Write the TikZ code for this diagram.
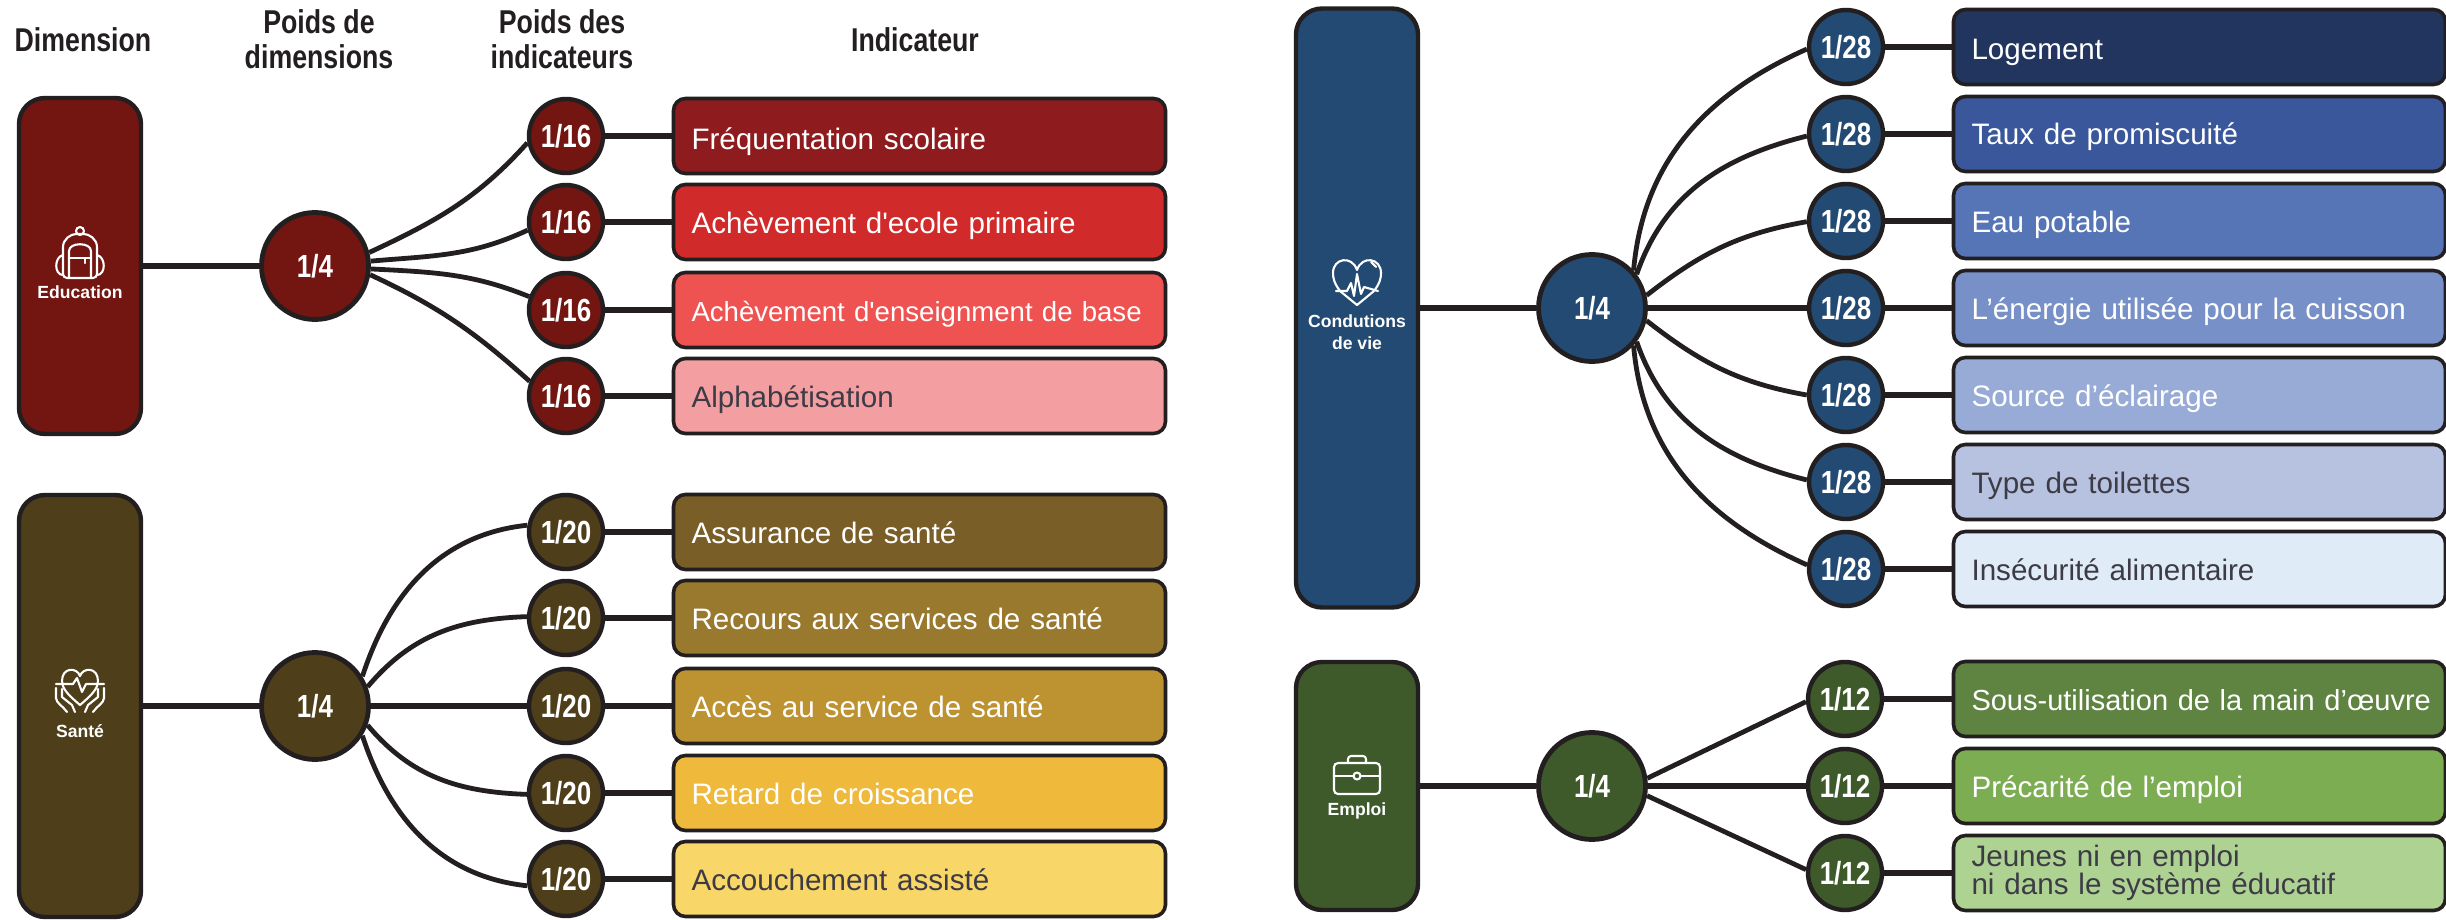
\documentclass[tikz,border=0pt]{standalone}
\usepackage{xcolor}
\usepackage{fontspec}
\setmainfont[Ligatures=TeXOff]{Liberation Sans}
\newfontfamily\headfont[FakeStretch=0.81]{Liberation Sans}
\usepackage{tikz}
\definecolor{ink}{HTML}{231F20}
\definecolor{dark}{HTML}{3D3B45}
\definecolor{eduD}{HTML}{731510}
\definecolor{eduA}{HTML}{8E1C1E}
\definecolor{eduB}{HTML}{D12A2B}
\definecolor{eduC}{HTML}{EE5351}
\definecolor{eduE}{HTML}{F39FA2}
\definecolor{santeD}{HTML}{4E3E19}
\definecolor{santeA}{HTML}{7A5E27}
\definecolor{santeB}{HTML}{98792E}
\definecolor{santeC}{HTML}{BD9331}
\definecolor{santeE}{HTML}{EFB93C}
\definecolor{santeF}{HTML}{F8D667}
\definecolor{vieD}{HTML}{224A72}
\definecolor{vieA}{HTML}{21355F}
\definecolor{vieB}{HTML}{39579A}
\definecolor{vieC}{HTML}{5575B6}
\definecolor{vieE}{HTML}{7791C8}
\definecolor{vieF}{HTML}{98ABD6}
\definecolor{vieG}{HTML}{B6C2E0}
\definecolor{vieH}{HTML}{DFECF8}
\definecolor{jobD}{HTML}{3E5A2B}
\definecolor{jobA}{HTML}{5F8341}
\definecolor{jobB}{HTML}{7DAD52}
\definecolor{jobC}{HTML}{ADD292}
\tikzset{
  dimbox/.style={draw=ink, fill=#1, line width=2.2pt, rounded corners=13pt, minimum width=61pt},
  bigw/.style={circle, draw=ink, fill=#1, line width=2.4pt, minimum size=53.5pt, inner sep=0pt, text=white, font=\headfont\bfseries\fontsize{16}{16}\selectfont},
  smallw/.style={circle, draw=ink, fill=#1, line width=2.2pt, minimum size=37pt, inner sep=0pt, text=white, font=\headfont\bfseries\fontsize{16}{16}\selectfont},
  ind/.style={draw=ink, fill=#1, line width=1.8pt, rounded corners=6pt, minimum height=37.5pt, text width=228pt, inner xsep=9pt, inner ysep=0pt, align=left, text height=12.5pt, text depth=1.5pt, text=white, font=\fontsize{14.8}{14}\selectfont},
  head/.style={text=ink, align=center, font=\headfont\bfseries\fontsize{16.5}{17.5}\selectfont},
  dimlab/.style={text=white, align=center, font=\bfseries\fontsize{8.8}{11}\selectfont},
  link/.style={draw=ink, line width=2.9pt},
  spline/.style={draw=ink, line width=2.4pt},
  icon/.style={draw=white, line width=1.05pt, line cap=round, line join=round},
  backpack/.pic={
    \draw[icon] (0,-22) circle[radius=4];
    \draw[icon, rounded corners=2pt] (-17,25) -- (-17,-2) .. controls (-17,-14) and (-9,-19) .. (0,-19) .. controls (9,-19) and (17,-14) .. (17,-2) -- (17,25) -- cycle;
    \draw[icon] (-11,25) -- (-11,-2) .. controls (-11,-11) and (11,-11) .. (11,-2) -- (11,25);
    \draw[icon] (-11,5) -- (11,5) (5,5) -- (5,10);
    \draw[icon] (-17,2) .. controls (-26,4) and (-26,22) .. (-17,22);
    \draw[icon] (17,2) .. controls (26,4) and (26,22) .. (17,22);
  },
  carehands/.pic={
    \draw[icon] (0,14) .. controls (-13,3) and (-18,-3) .. (-18,-10) .. controls (-18,-24) and (-3,-24) .. (0,-15) .. controls (3,-24) and (18,-24) .. (18,-10) .. controls (18,-3) and (13,3) .. (0,14);
    \draw[icon] (-24,-7) -- (-7,-7) -- (-3,-13) -- (2,1) -- (6,-7) -- (24,-7);
    \draw[icon] (-24,-3) -- (-24,7) .. controls (-24,12) and (-17,15) .. (-13,21);
    \draw[icon] (24,-3) -- (24,7) .. controls (24,12) and (17,15) .. (13,21);
    \draw[icon] (-18,-2) -- (-18,6) -- (-8,14) -- (-5,21);
    \draw[icon] (18,-2) -- (18,6) -- (8,14) -- (5,21);
  },
  pulseheart/.pic={
    \draw[icon] (-17,9) .. controls (-23,1) and (-24,-4) .. (-24,-9) .. controls (-24,-24) and (-5,-27) .. (0,-12) .. controls (5,-27) and (24,-24) .. (24,-9) .. controls (24,-4) and (23,1) .. (17,9) -- (0,23) -- cycle;
    \draw[icon] (-21,9) -- (-10,9) -- (-6,1) -- (-3,14) -- (0,-8) -- (4,12) -- (7,5) -- (21,9);
    \draw[icon] (14,-20) -- (19,-15);
  },
  briefcase/.pic={
    \draw[icon, rounded corners=2pt] (-23,-12) rectangle (23,19);
    \draw[icon, rounded corners=1.5pt] (-9,-12) -- (-9,-19) -- (9,-19) -- (9,-12);
    \draw[icon] (-23,1) -- (-4,1) (4,1) -- (23,1);
    \draw[icon] (0,1) circle[radius=3.5];
  },
}

\begin{document}
\begin{tikzpicture}[x=0.5pt, y=-0.5pt]
  \useasboundingbox (0,0) rectangle (2446,920);

  \node[head] (hDim) at (83,40) {Dimension};
  \node[head] (hPoidsDim) at (319,39) {Poids de\\dimensions};
  \node[head] (hPoidsInd) at (562,39) {Poids des\\indicateurs};
  \node[head] (hInd) at (915,40) {Indicateur};

  % education
  \node[dimbox=eduD, minimum height=168pt] (eduBox) at (80,266) {};
  \node[bigw=eduD] (eduW) at (315,266) {1/4};
  \node[smallw=eduD] (eduP1) at (566,136) {1/16};
  \node[smallw=eduD] (eduP2) at (566,222) {1/16};
  \node[smallw=eduD] (eduP3) at (566,310) {1/16};
  \node[smallw=eduD] (eduP4) at (566,396) {1/16};
  \node[ind=eduA, text height=15pt] (eduI1) at (919.5,136) {Fréquentation scolaire};
  \node[ind=eduB] (eduI2) at (919.5,222) {Achèvement d'ecole primaire};
  \node[ind=eduC, font=\fontsize{13.8}{14}\selectfont] (eduI3) at (919.5,310) {\mbox{Achèvement d'enseignment de base}};
  \node[ind=eduE, text=dark] (eduI4) at (919.5,396) {Alphabétisation};
  \pic at (80,253) {backpack};
  \node[dimlab] (eduLab) at (80,292) {Education};

  \draw[link] (eduBox) -- (eduW);
  \draw[spline] (eduW.14) to[out=25,in=228] (eduP1.190);
  \draw[spline] (eduW.5) to[out=5,in=205] (eduP2.192);
  \draw[spline] (eduW.-3) to[out=-3,in=158] (eduP3.160);
  \draw[spline] (eduW.-9) to[out=-25,in=138] (eduP4.158);
  \draw[link] (eduP1) -- (eduI1);
  \draw[link] (eduP2) -- (eduI2);
  \draw[link] (eduP3) -- (eduI3);
  \draw[link] (eduP4) -- (eduI4);

  % sante
  \node[dimbox=santeD, minimum height=211pt] (santeBox) at (80,706) {};
  \node[bigw=santeD] (santeW) at (315,706) {1/4};
  \node[smallw=santeD] (santeP1) at (566,532) {1/20};
  \node[smallw=santeD] (santeP2) at (566,618) {1/20};
  \node[smallw=santeD] (santeP3) at (566,706) {1/20};
  \node[smallw=santeD] (santeP4) at (566,793) {1/20};
  \node[smallw=santeD] (santeP5) at (566,879) {1/20};
  \node[ind=santeA] (santeI1) at (919.5,532) {Assurance de santé};
  \node[ind=santeB] (santeI2) at (919.5,618) {Recours aux services de santé};
  \node[ind=santeC] (santeI3) at (919.5,706) {Accès au service de santé};
  \node[ind=santeE] (santeI4) at (919.5,793) {Retard de croissance};
  \node[ind=santeF, text=dark] (santeI5) at (919.5,879) {Accouchement assisté};
  \pic at (80,691) {carehands};
  \node[dimlab] (santeLab) at (80,731) {Santé};

  \draw[link] (santeBox) -- (santeW);
  \draw[spline] (santeW.32) to[out=72,in=186] (santeP1.170);
  \draw[spline] (santeW.20) to[out=50,in=182] (santeP2.178);
  \draw[link] (santeW) -- (santeP3);
  \draw[spline] (santeW.-20) to[out=-50,in=178] (santeP4.182);
  \draw[spline] (santeW.-32) to[out=-72,in=174] (santeP5.190);
  \draw[link] (santeP1) -- (santeI1);
  \draw[link] (santeP2) -- (santeI2);
  \draw[link] (santeP3) -- (santeI3);
  \draw[link] (santeP4) -- (santeI4);
  \draw[link] (santeP5) -- (santeI5);

  % conditions de vie
  \node[dimbox=vieD, minimum height=299.5pt] (vieBox) at (1357,308) {};
  \node[bigw=vieD] (vieW) at (1592,308) {1/4};
  \node[smallw=vieD] (vieP1) at (1846,47) {1/28};
  \node[smallw=vieD] (vieP2) at (1846,134) {1/28};
  \node[smallw=vieD] (vieP3) at (1846,221) {1/28};
  \node[smallw=vieD] (vieP4) at (1846,308) {1/28};
  \node[smallw=vieD] (vieP5) at (1846,395) {1/28};
  \node[smallw=vieD] (vieP6) at (1846,482) {1/28};
  \node[smallw=vieD] (vieP7) at (1846,569) {1/28};
  \node[ind=vieA, text height=14.5pt] (vieI1) at (2199.5,47) {Logement};
  \node[ind=vieB] (vieI2) at (2199.5,134) {Taux de promiscuité};
  \node[ind=vieC] (vieI3) at (2199.5,221) {Eau potable};
  \node[ind=vieE] (vieI4) at (2199.5,308) {L’énergie utilisée pour la cuisson};
  \node[ind=vieF] (vieI5) at (2199.5,395) {Source d’éclairage};
  \node[ind=vieG, text=dark] (vieI6) at (2199.5,482) {Type de toilettes};
  \node[ind=vieH, text=dark] (vieI7) at (2199.5,569) {Insécurité alimentaire};
  \pic at (1357,282) {pulseheart};
  \node[dimlab] (vieLab) at (1357,332) {Condutions\\de vie};

  \draw[link] (vieBox) -- (vieW);
  \draw[spline] (vieW.42) to[out=85,in=204] (vieP1.183);
  \draw[spline] (vieW.37) to[out=71,in=194] (vieP2.183);
  \draw[spline] (vieW.13) to[out=38,in=190] (vieP3.181);
  \draw[link] (vieW) -- (vieP4);
  \draw[spline] (vieW.-13) to[out=-38,in=170] (vieP5.180);
  \draw[spline] (vieW.-37) to[out=-71,in=166] (vieP6.177);
  \draw[spline] (vieW.-42) to[out=-85,in=156] (vieP7.174);
  \draw[link] (vieP1) -- (vieI1);
  \draw[link] (vieP2) -- (vieI2);
  \draw[link] (vieP3) -- (vieI3);
  \draw[link] (vieP4) -- (vieI4);
  \draw[link] (vieP5) -- (vieI5);
  \draw[link] (vieP6) -- (vieI6);
  \draw[link] (vieP7) -- (vieI7);

  % emploi
  \node[dimbox=jobD, minimum height=124pt] (jobBox) at (1357,786) {};
  \node[bigw=jobD] (jobW) at (1592,786) {1/4};
  \node[smallw=jobD] (jobP1) at (1845,699) {1/12};
  \node[smallw=jobD] (jobP2) at (1845,786) {1/12};
  \node[smallw=jobD] (jobP3) at (1845,873) {1/12};
  \node[ind=jobA, font=\fontsize{14.5}{14}\selectfont] (jobI1) at (2199.5,699) {\mbox{Sous-utilisation de la main d’œuvre}};
  \node[ind=jobB] (jobI2) at (2199.5,786) {Précarité de l’emploi};
  \node[ind=jobC, text=dark, text height=, text depth=] (jobI3) at (2199.5,873) {Jeunes ni en emploi\\ni dans le système éducatif};
  \pic at (1357,775) {briefcase};
  \node[dimlab] (jobLab) at (1357,811) {Emploi};

  \draw[link] (jobBox) -- (jobW);
  \draw[spline] (jobW.8) -- (jobP1.184);
  \draw[link] (jobW) -- (jobP2);
  \draw[spline] (jobW.-10) -- (jobP3.175);
  \draw[link] (jobP1) -- (jobI1);
  \draw[link] (jobP2) -- (jobI2);
  \draw[link] (jobP3) -- (jobI3);
\end{tikzpicture}
\end{document}
